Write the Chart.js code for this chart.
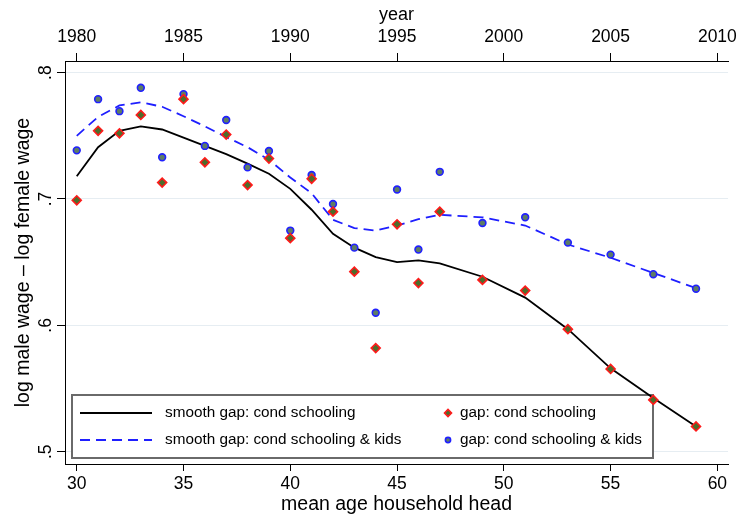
<!DOCTYPE html>
<html>
<head>
<meta charset="utf-8">
<script src="https://cdn.jsdelivr.net/npm/chart.js@4.4.1/dist/chart.umd.min.js"></script>
<style>
  body { margin: 0; background: #fff; }
  #wrap { width: 742px; height: 516px; }
</style>
</head>
<body>
<div id="wrap"><canvas id="gap" width="742" height="516"></canvas></div>
<script>
// mean age of household head, one entry per survey year
const ages = [30, 31, 32, 33, 34, 35, 36, 37, 38, 39, 40, 41, 42, 43, 44, 45, 46, 47, 49, 51, 53, 55, 57, 59];

// log male wage - log female wage
const gapSchool = [0.699, 0.754, 0.752, 0.7665, 0.713, 0.779, 0.729, 0.751, 0.711, 0.732, 0.669, 0.716,
                   0.690, 0.6425, 0.582, 0.680, 0.6335, 0.690, 0.636, 0.6275, 0.597, 0.5655, 0.541, 0.520];
const gapKids = [0.7385, 0.779, 0.7695, 0.788, 0.733, 0.783, 0.742, 0.7625, 0.725, 0.738, 0.675, 0.719,
                 0.696, 0.6615, 0.610, 0.7075, 0.660, 0.7215, 0.681, 0.6855, 0.6655, 0.656, 0.6405, 0.629];
const smoothSchool = [0.718, 0.741, 0.754, 0.7575, 0.755, 0.7485, 0.742, 0.7355, 0.728, 0.720, 0.708, 0.6915,
                      0.6725, 0.6615, 0.654, 0.650, 0.6515, 0.649, 0.6385, 0.622, 0.597, 0.566, 0.5425, 0.520];
const smoothKids = [0.750, 0.765, 0.774, 0.7765, 0.773, 0.7655, 0.7575, 0.749, 0.741, 0.731, 0.717, 0.7045,
                    0.6835, 0.677, 0.675, 0.679, 0.684, 0.6875, 0.6855, 0.679, 0.664, 0.6535, 0.6415, 0.6295];

// axis ticks
const ageTicks = [30, 35, 40, 45, 50, 55, 60];
const yearTicks = [1980, 1985, 1990, 1995, 2000, 2005, 2010];
const gapTicks = [0.5, 0.6, 0.7, 0.8];
const yearOffset = 1950;   // survey year = age + 1950

const xMin = 29.45, xMax = 60.5;
const yMin = 0.4903, yMax = 0.8092;

const FONT = "'Liberation Sans', Arial, sans-serif";
Chart.defaults.font.family = FONT;
Chart.defaults.color = '#000';

function pts(ys) {
  return ages.map((a, i) => ({ x: a, y: ys[i] }));
}
function fixTicks(list) {
  return function(scale) { scale.ticks = list.map(v => ({ value: v })); };
}

// legend drawn inside the plot area, two columns
const boxLegend = {
  id: 'boxLegend',
  beforeDatasetsDraw(chart) {
    const { ctx, chartArea } = chart;
    const ds = chart.data.datasets;
    const left = chartArea.left + 7, top = chartArea.bottom - 69;
    const w = 581, h = 63;
    ctx.save();
    ctx.fillStyle = '#fff';
    ctx.fillRect(left, top, w, h);
    ctx.strokeStyle = '#6a6a6a';
    ctx.lineWidth = 2;
    ctx.strokeRect(left, top, w, h);

    const rows = [[ds[2], ds[0]], [ds[3], ds[1]]];
    ctx.font = '15.3px ' + FONT;
    ctx.textBaseline = 'middle';
    ctx.fillStyle = '#000';
    rows.forEach((row, r) => {
      const y = top + 18 + r * 27;
      // line sample
      const ln = row[0];
      ctx.strokeStyle = ln.borderColor;
      ctx.lineWidth = ln.borderWidth;
      ctx.setLineDash(ln.borderDash || []);
      ctx.beginPath();
      ctx.moveTo(left + 8, y);
      ctx.lineTo(left + 80, y);
      ctx.stroke();
      ctx.setLineDash([]);
      ctx.fillText(ln.label, left + 93, y);
      // marker sample
      const mk = row[1];
      ctx.fillStyle = mk.backgroundColor;
      ctx.strokeStyle = mk.borderColor;
      ctx.lineWidth = mk.borderWidth;
      Chart.helpers.drawPoint(ctx, {
        pointStyle: mk.pointStyle,
        radius: mk.pointStyle === 'rectRot' ? 3.5 : 2.6,
        borderWidth: mk.borderWidth
      }, left + 376, y);
      ctx.fillStyle = '#000';
      ctx.fillText(mk.label, left + 388, y);
    });
    ctx.restore();
  }
};

new Chart(document.getElementById('gap'), {
  type: 'scatter',
  data: {
    datasets: [
      {
        label: 'gap: cond schooling',
        data: pts(gapSchool),
        pointStyle: 'rectRot',
        pointRadius: 4.5,
        borderWidth: 1.6,
        borderColor: '#ff1a1a',
        backgroundColor: '#4c6d2c',
        order: 0
      },
      {
        label: 'gap: cond schooling & kids',
        data: pts(gapKids),
        pointStyle: 'circle',
        pointRadius: 3.4,
        borderWidth: 1.6,
        borderColor: '#2020ff',
        backgroundColor: '#5d7c66',
        order: 1
      },
      {
        label: 'smooth gap: cond schooling',
        data: pts(smoothSchool),
        showLine: true,
        pointRadius: 0,
        borderColor: '#000',
        borderWidth: 1.8,
        tension: 0,
        order: 2
      },
      {
        label: 'smooth gap: cond schooling & kids',
        data: pts(smoothKids),
        showLine: true,
        pointRadius: 0,
        borderColor: '#1f1fff',
        borderWidth: 1.8,
        borderDash: [10, 6],
        tension: 0,
        order: 3
      }
    ]
  },
  options: {
    responsive: false,
    animation: false,
    devicePixelRatio: 1,
    layout: { padding: { right: 10 } },
    plugins: {
      legend: { display: false },
      tooltip: { enabled: false }
    },
    scales: {
      x: {
        type: 'linear',
        position: 'bottom',
        min: xMin,
        max: xMax,
        afterBuildTicks: fixTicks(ageTicks),
        afterFit: s => { s.height = 52; },
        ticks: { font: { size: 17.5 }, padding: 3, maxRotation: 0, autoSkip: false },
        grid: { drawOnChartArea: false, tickLength: 7, tickColor: '#000', tickWidth: 1 },
        border: { color: '#000', width: 1 },
        title: {
          display: true,
          text: 'mean age household head',
          font: { size: 19.5 },
          padding: { top: 0, bottom: 0 }
        }
      },
      year: {
        type: 'linear',
        position: 'top',
        min: xMin + yearOffset,
        max: xMax + yearOffset,
        afterBuildTicks: fixTicks(yearTicks),
        afterFit: s => { s.height = 61; },
        ticks: {
          font: { size: 17.5 },
          padding: 5,
          maxRotation: 0,
          autoSkip: false,
          callback: v => String(v)
        },
        grid: { drawOnChartArea: false, tickLength: 8, tickColor: '#000', tickWidth: 1 },
        border: { color: '#000', width: 1 },
        title: {
          display: true,
          text: 'year',
          font: { size: 18 },
          padding: { top: 4, bottom: 0 }
        }
      },
      y: {
        type: 'linear',
        min: yMin,
        max: yMax,
        afterBuildTicks: fixTicks(gapTicks),
        afterFit: s => { s.width = 65; },
        ticks: {
          font: { size: 17.5 },
          minRotation: 90,
          maxRotation: 90,
          crossAlign: 'center',
          padding: 4,
          callback: v => String(v).replace(/^0/, '')
        },
        grid: { color: '#e6edf2', lineWidth: 1, tickLength: 8, tickColor: '#000', tickWidth: 1 },
        border: { color: '#000', width: 1 },
        title: {
          display: true,
          text: 'log male wage – log female wage',
          font: { size: 19.5 },
          padding: { top: 12, bottom: 0 }
        }
      }
    }
  },
  plugins: [boxLegend]
});
</script>
</body>
</html>
